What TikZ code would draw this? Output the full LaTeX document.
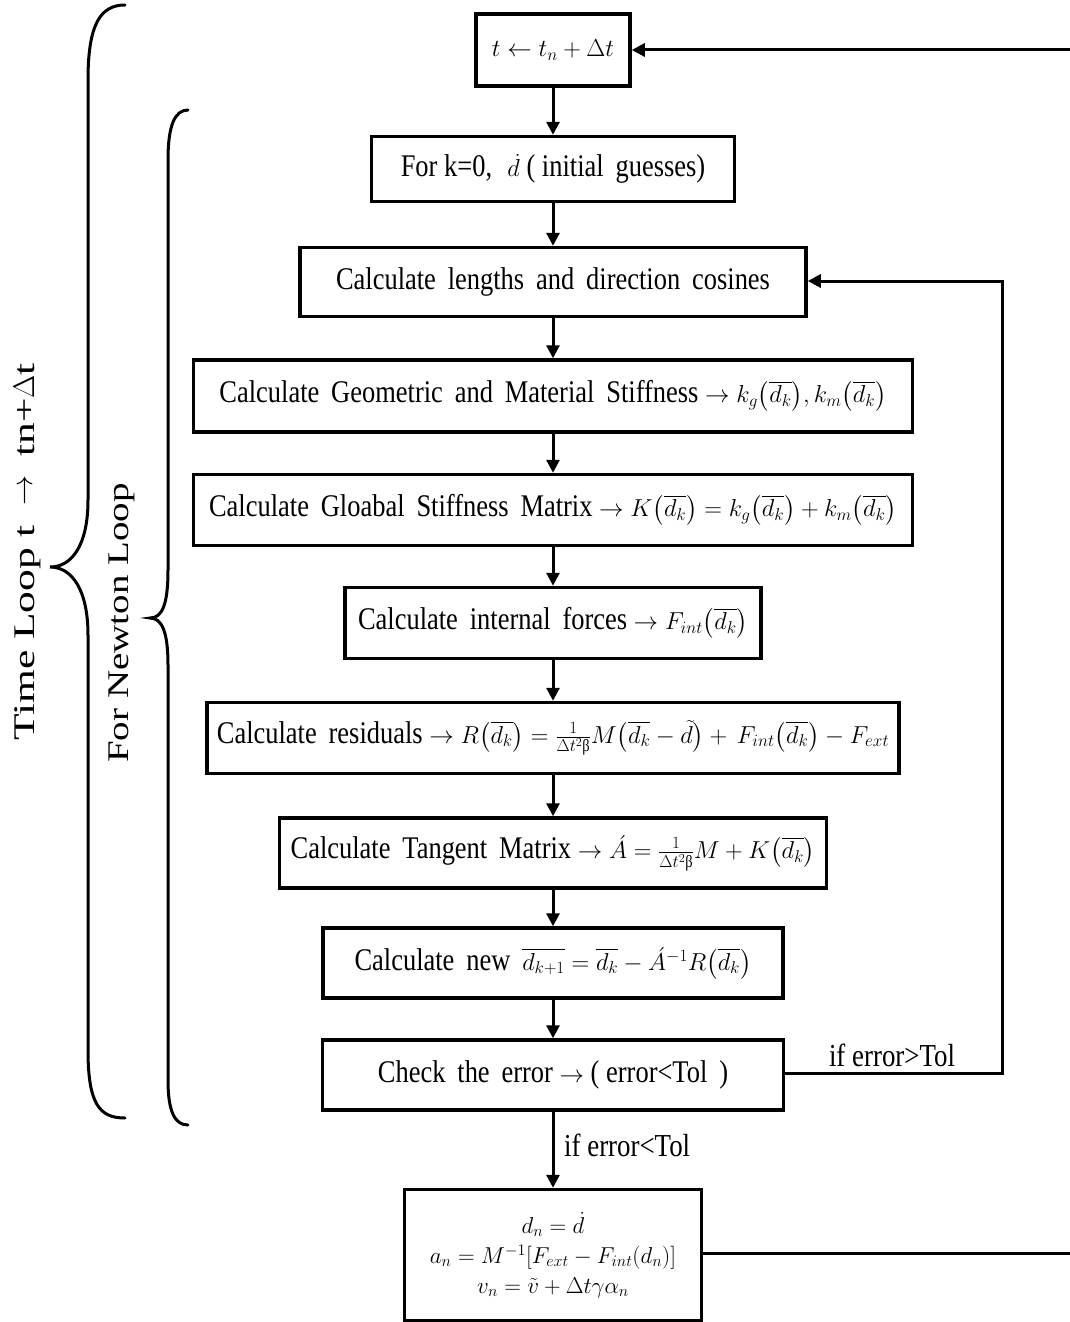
\RequirePackage{fix-cm}
\documentclass[tikz,border=0pt]{standalone}
\usepackage{amsmath}
\usepackage{fontspec}
\setmainfont{Liberation Serif}
\newfontfamily\bx[FakeStretch=0.84]{Liberation Serif}
\newfontfamily\sidefont[FakeStretch=1.45]{Liberation Serif}
\newfontfamily\sidefontb[FakeStretch=1.3]{Liberation Serif}
\newcommand\mth[1]{{\fontsize{24.5}{30}\selectfont$#1$}}
\newcommand\ubeta{\text{β}}
\usetikzlibrary{arrows.meta}
\begin{document}
\begin{tikzpicture}[x=1pt,y=-1pt,
  box/.style={draw, line width=3.5pt, inner sep=0pt, align=center,
    font=\bx\fontsize{31.5}{35}\selectfont},
  ar/.style={line width=3pt,-{Triangle[length=13pt,width=13pt]}},
  ln/.style={line width=3pt},
  br/.style={line width=3pt, line cap=round},
  lbl/.style={font=\bx\fontsize{32}{36}\selectfont, inner sep=0pt}]
\useasboundingbox (0,0) rectangle (1070,1322);
% boxes
\node[box, minimum width=154pt, minimum height=72pt] (t) at (553,50) {\mth{t \leftarrow t_n + \Delta t}};
\node[box, minimum width=363pt, minimum height=65pt] (k0) at (553,169) {For k=0,\; \mth{\dot{d}} ( initial\, guesses)};
\node[box, minimum width=506pt, minimum height=69pt] (len) at (553,282) {Calculate\, lengths\, and\, direction\, cosines};
\node[box, minimum width=719pt, minimum height=72pt] (geo) at (553,396) {Calculate\, Geometric\, and\, Material\, Stiffness \mth{\rightarrow k_g\bigl(\overline{d_k}\bigr), k_m\bigl(\overline{d_k}\bigr)}};
\node[box, minimum width=719pt, minimum height=71pt] (glob) at (553,510) {Calculate\, Gloabal\, Stiffness\, Matrix \mth{\rightarrow K\bigl(\overline{d_k}\bigr)=k_g\bigl(\overline{d_k}\bigr)+k_m\bigl(\overline{d_k}\bigr)}};
\node[box, minimum width=416pt, minimum height=71pt] (int) at (553,623) {Calculate\, internal\, forces \mth{\rightarrow F_{int}\bigl(\overline{d_k}\bigr)}};
\node[box, minimum width=692pt, minimum height=71pt] (res) at (553,738) {Calculate\, residuals \mth{\rightarrow R\bigl(\overline{d_k}\bigr)=\frac{1}{\Delta t^2\ubeta}M\bigl(\overline{d_k}-\tilde{d}\bigr)+\,F_{int}\bigl(\overline{d_k}\bigr)-F_{ext}}};
\node[box, minimum width=547pt, minimum height=70pt] (tan) at (553,853) {Calculate\, Tangent\, Matrix \mth{\rightarrow \acute{A}=\frac{1}{\Delta t^2\ubeta}M+K\bigl(\overline{d_k}\bigr)}};
\node[box, minimum width=460pt, minimum height=70pt] (new) at (553,963) {Calculate\, new\, \mth{\overline{d_{k+1}}=\overline{d_k}-\acute{A}^{-1}R\bigl(\overline{d_k}\bigr)}};
\node[box, minimum width=461pt, minimum height=70pt] (chk) at (553,1075) {Check\, the\, error \mth{\rightarrow} ( error<Tol\, )};
\node[box, minimum width=297pt, minimum height=131pt, font=\fontsize{23}{30}\selectfont] (fin) at (553,1255) {$d_n=\dot{d}$\\ $a_n=M^{-1}[F_{ext}-F_{int}(d_n)]$\\ $v_n=\tilde{v}+\Delta t\gamma\alpha_n$};
% vertical arrows
\draw[ar] (t) -- (k0);
\draw[ar] (k0) -- (len);
\draw[ar] (len) -- (geo);
\draw[ar] (geo) -- (glob);
\draw[ar] (glob) -- (int);
\draw[ar] (int) -- (res);
\draw[ar] (res) -- (tan);
\draw[ar] (tan) -- (new);
\draw[ar] (new) -- (chk);
\draw[ar] (chk.south) -- (fin.north);
\node[lbl, anchor=west] (lt) at (564,1145) {if error<Tol};
% newton loop back
\coordinate (c1) at (1002,1073);
\coordinate (c2) at (1002,281);
\draw[ar] (chk.east |- c1) -- (c1) -- (c2) -- (len.east |- c2);
\node[lbl] (gt) at (892,1055) {if error>Tol};
% time loop back
\coordinate (e1) at (1070,1253);
\coordinate (e2) at (1070,50);
\draw[ln] (fin.east |- e1) -- (e1);
\draw[ar] (e2) -- (t.east |- e2);
% braces
\draw[br] (125,5) .. controls (100,5) and (88,25) .. (88,80) -- (88,500)
  .. controls (88,545) and (72,567) .. (50,567)
  .. controls (72,567) and (88,590) .. (88,635) -- (88,1050)
  .. controls (88,1105) and (100,1118) .. (125,1118);
\draw[br] (188,110) .. controls (175,110) and (168,125) .. (168,160) -- (168,570)
  .. controls (168,605) and (162,618) .. (150,618)
  .. controls (162,618) and (168,632) .. (168,665) -- (168,1080)
  .. controls (168,1112) and (175,1125) .. (188,1125);
\node[rotate=90, font=\sidefont\fontsize{30}{34}\selectfont] (tl) at (27,552) {Time Loop t\; \raisebox{2pt}{$\rightarrow$}\; tn+$\Delta$t};
\node[rotate=90, font=\sidefontb\fontsize{30}{34}\selectfont] (nl) at (122,623) {For Newton Loop};
\end{tikzpicture}
\end{document}
